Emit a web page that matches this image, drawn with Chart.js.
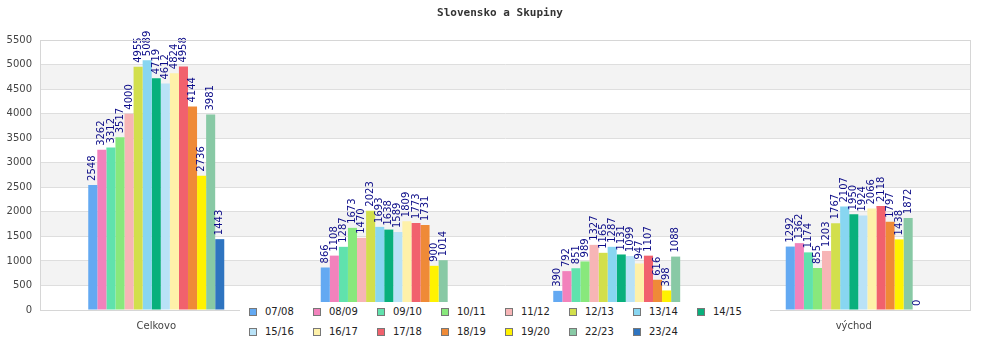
<!DOCTYPE html>
<html>
<head>
<meta charset="utf-8">
<script src="https://cdn.jsdelivr.net/npm/chart.js@4.4.1/dist/chart.umd.min.js"></script>
<style>
  html, body { margin: 0; padding: 0; background: #fff; }
  #wrap { position: relative; width: 1000px; height: 350px; }
  #title {
    position: absolute; left: 0; top: 6px; width: 1000px; text-align: center;
    font: bold 11px "DejaVu Sans Mono", monospace; color: #333;
  }
  #legend {
    position: absolute; left: 240px; top: 302px; width: 530px; height: 42px;
    background: #fff; font: 10px "DejaVu Sans", sans-serif; color: #222;
  }
  .item { position: absolute; height: 12px; line-height: 12px; white-space: nowrap; }
  .item i {
    position: absolute; left: 0; top: 2px; width: 6px; height: 6px;
    border: 1px solid #777; box-sizing: content-box;
  }
  .item span { position: absolute; left: 16px; top: 0; }
</style>
</head>
<body>
<div id="wrap">
  <canvas id="chart" width="1000" height="350"></canvas>
  <div id="title">Slovensko a Skupiny</div>
  <div id="legend"></div>
</div>
<script>
const regions = ["Celkovo", "západ", "stred", "východ"];
const seasons = ["07/08", "08/09", "09/10", "10/11", "11/12", "12/13", "13/14", "14/15",
                 "15/16", "16/17", "17/18", "18/19", "19/20", "22/23", "23/24"];

// počty podľa sezóny pre každú skupinu
const celkovo = [2548, 3262, 3312, 3517, 4000, 4955, 5089, 4719, 4612, 4824, 4958, 4144, 2736, 3981, 1443];
const zapad   = [866, 1108, 1287, 1673, 1470, 2023, 1693, 1638, 1589, 1809, 1773, 1731, 900, 1014, null];
const stred   = [390, 792, 851, 989, 1327, 1165, 1287, 1131, 1099, 947, 1107, 616, 398, 1088, null];
const vychod  = [1292, 1362, 1174, 855, 1203, 1767, 2107, 1950, 1924, 2066, 2118, 1797, 1438, 1872, 0];

const yTicks = { min: 0, max: 5500, step: 500 };

const colors = ["#63a9f2", "#f282bc", "#60e2ad", "#88e87c", "#f7b5b6", "#d2df4c", "#88d6f1", "#08b07c",
                "#b9e2f7", "#fef1a9", "#f1616d", "#ef8a37", "#fff200", "#88c9a5", "#2e74c0"];

const datasets = seasons.map((s, i) => ({
  label: s,
  data: [celkovo[i], zapad[i], stred[i], vychod[i]],
  backgroundColor: colors[i],
  categoryPercentage: 0.585,
  barPercentage: 1.0
}));

// striedavé pásy pozadia
const bands = {
  id: "bands",
  beforeDraw(chart) {
    const { ctx, chartArea: a, scales: { y } } = chart;
    ctx.save();
    ctx.fillStyle = "#f3f3f3";
    for (let v = yTicks.step; v < yTicks.max; v += yTicks.step * 2) {
      const top = y.getPixelForValue(v + yTicks.step);
      const bot = y.getPixelForValue(v);
      ctx.fillRect(a.left, top, a.right - a.left, bot - top);
    }
    ctx.restore();
  },
  afterDraw(chart) {
    const { ctx, chartArea: a } = chart;
    ctx.save();
    ctx.strokeStyle = "#d6d6d6";
    ctx.lineWidth = 1;
    ctx.strokeRect(Math.round(a.left) + 0.5, Math.round(a.top) + 0.5,
                   Math.round(a.right - a.left), Math.round(a.bottom - a.top));
    ctx.restore();
  }
};

// zvislé popisky hodnôt nad stĺpcami
const valueLabels = {
  id: "valueLabels",
  afterDatasetsDraw(chart) {
    const ctx = chart.ctx;
    ctx.save();
    ctx.font = "10px 'DejaVu Sans', sans-serif";
    ctx.fillStyle = "#0c0c88";
    ctx.textAlign = "left";
    ctx.textBaseline = "middle";
    chart.data.datasets.forEach((ds, di) => {
      chart.getDatasetMeta(di).data.forEach((bar, i) => {
        const v = ds.data[i];
        if (v === null || v === undefined) return;
        ctx.save();
        ctx.translate(bar.x, bar.y - 4);
        ctx.rotate(-Math.PI / 2);
        ctx.fillText(String(v), 0, 0);
        ctx.restore();
      });
    });
    ctx.restore();
  }
};

new Chart(document.getElementById("chart"), {
  type: "bar",
  data: { labels: regions, datasets },
  options: {
    responsive: false,
    animation: false,
    layout: { padding: { top: 40, right: 30, left: 0, bottom: 0 } },
    plugins: { legend: { display: false }, title: { display: false }, tooltip: { enabled: false } },
    scales: {
      x: {
        grid: { display: false },
        border: { display: true, color: "#d6d6d6" },
        ticks: { color: "#444", font: { family: "DejaVu Sans", size: 10 }, padding: 2 },
        afterFit(s) { s.height = 40; }
      },
      y: {
        min: yTicks.min,
        max: yTicks.max,
        ticks: {
          stepSize: yTicks.step, color: "#444", font: { family: "DejaVu Sans", size: 10 }, padding: 8,
          callback: v => String(v)
        },
        grid: { color: "#dedede", drawTicks: false },
        border: { display: true, color: "#d6d6d6" },
        afterFit(s) { s.width = 40; }
      }
    }
  },
  plugins: [bands, valueLabels]
});

// legenda pod osou
const legend = document.getElementById("legend");
seasons.forEach((s, i) => {
  const el = document.createElement("div");
  el.className = "item";
  el.style.left = (9 + (i % 8) * 64) + "px";
  el.style.top = (4 + Math.floor(i / 8) * 20) + "px";
  el.innerHTML = `<i style="background:${colors[i]}"></i><span>${s}</span>`;
  legend.appendChild(el);
});
</script>
</body>
</html>
